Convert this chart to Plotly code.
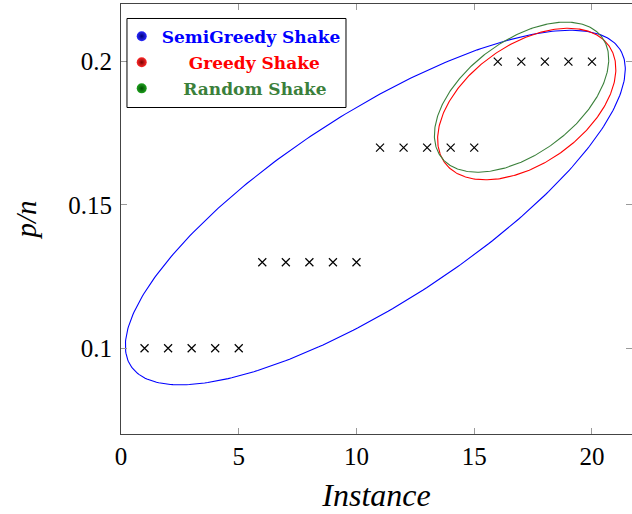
import numpy as np
import plotly.graph_objects as go

# ---- data ----
instances = list(range(1, 21))
p_over_n = [0.10]*5 + [0.13]*5 + [0.17]*5 + [0.20]*5

x_ticks = [0, 5, 10, 15, 20]
y_ticks = [0.10, 0.15, 0.20]
y_tick_labels = ["0.1", "0.15", "0.2"]

series_names = ["SemiGreedy Shake", "Greedy Shake", "Random Shake"]
series_colors = ["#0000ff", "#ff0000", "#3b803b"]
ball_colors = ["#2a2aff", "#ff2a2a", "#1fa01f"]
ball_edges = ["#00007a", "#7a0000", "#005000"]

# ellipse params: center x, center y, semi-major / semi-minor (in x units), rotation (deg, visual)
ell_cx = [10.80, 17.23, 17.01]
ell_cy = [0.1491, 0.1852, 0.1876]
ell_a = [12.37, 4.28, 4.26]
ell_b = [4.04, 2.52, 2.39]
ell_rot = [32.9, 35.3, 36.7]

x_range = [0, 21.7]
y_range = [0.0701, 0.2201]
# visual aspect: pixels per x unit / pixels per y unit
aspect = 23.55 / 2866.0

fig = go.Figure()

t = np.linspace(0, 2*np.pi, 361)
for cx, cy, a, b, rot, col in zip(ell_cx, ell_cy, ell_a, ell_b, ell_rot, series_colors):
    th = np.deg2rad(rot)
    u = a*np.cos(t)
    v = b*np.sin(t)
    dx = u*np.cos(th) - v*np.sin(th)
    dy = u*np.sin(th) + v*np.cos(th)
    fig.add_trace(go.Scatter(x=cx + dx, y=cy + dy*aspect, mode="lines",
                             line=dict(color=col, width=1.1), showlegend=False,
                             hoverinfo="skip"))

fig.add_trace(go.Scatter(x=instances, y=p_over_n, mode="markers",
                         marker=dict(symbol="x-thin", size=8,
                                     line=dict(color="black", width=1.2)),
                         showlegend=False))

pads = [0, 5, 4]
for i, (name, col, bc, be, pad) in enumerate(zip(series_names, series_colors, ball_colors, ball_edges, pads)):
    label = "\u00a0"*pad + f"<b><span style='color:{col}'>{name}</span></b>"
    fig.add_trace(go.Scatter(x=[None], y=[None], mode="markers", name=label,
                             legendgroup=f"g{i}",
                             marker=dict(symbol="circle", size=10, color=bc,
                                         gradient=dict(type="radial", color=be),
                                         line=dict(width=0))))

fig.update_layout(
    width=632, height=514,
    margin=dict(l=121, r=0, t=4, b=80, autoexpand=False),
    plot_bgcolor="white", paper_bgcolor="white",
    font=dict(family="Liberation Serif", color="black", size=25),
    legend=dict(x=0.0014, y=0.966, xanchor="left", yanchor="top",
                bgcolor="rgba(0,0,0,0)", borderwidth=0,
                font=dict(family="DejaVu Serif", size=17),
                tracegroupgap=1),
    shapes=[dict(type="rect", xref="paper", yref="paper",
                 x0=0.0117, x1=0.4403, y0=0.7593, y1=0.9663,
                 line=dict(color="black", width=1), fillcolor="white", layer="above")],
)

fig.update_xaxes(range=x_range, tickvals=x_ticks, ticks="inside", ticklen=6,
                 tickcolor="#9a9a9a", showline=True, linecolor="#444", linewidth=1,
                 mirror="ticks", showgrid=False, zeroline=False, automargin=False,
                 ticklabelstandoff=0,
                 title=dict(text="<i>Instance</i>", font=dict(size=32), standoff=14))
fig.update_yaxes(range=y_range, tickvals=y_ticks, ticktext=y_tick_labels,
                 ticks="inside", ticklen=6,
                 tickcolor="#9a9a9a", showline=True, linecolor="#444", linewidth=1,
                 mirror="ticks", showgrid=False, zeroline=False, automargin=False,
                 ticklabelstandoff=3,
                 title=dict(text="<i>p/n</i>", font=dict(size=29), standoff=23))

fig.write_html("out.html", config={"displayModeBar": False},
               post_script="document.body.style.margin='0';document.body.style.overflow='hidden';")
